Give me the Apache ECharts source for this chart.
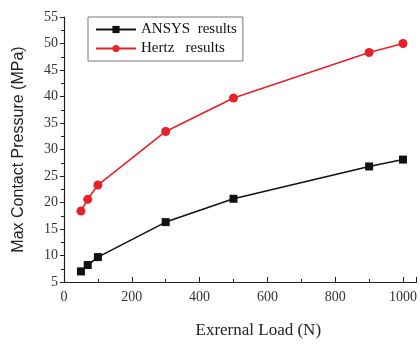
<!DOCTYPE html>
<html>
<head>
<meta charset="utf-8">
<script src="https://cdn.jsdelivr.net/npm/echarts@6/dist/echarts.min.js"></script>
<style>
  html, body { margin: 0; padding: 0; background: #fff; }
  #chart { width: 420px; height: 344px; }
</style>
</head>
<body>
<div id="chart"></div>
<script>
var loads = [50, 70, 100, 300, 500, 900, 1000];
var ansys = [7.0, 8.2, 9.7, 16.3, 20.7, 26.8, 28.1];
var hertz = [18.4, 20.6, 23.3, 33.4, 39.7, 48.3, 50.0];
var seriesNames = ['ANSYS  results', 'Hertz   results'];

function pairs(xs, ys) {
  var out = [];
  for (var i = 0; i < xs.length; i++) {
    out.push([xs[i], ys[i]]);
  }
  return out;
}

var serif = 'Liberation Serif';

var chart = echarts.init(document.getElementById('chart'));
chart.setOption({
  animation: false,
  backgroundColor: '#fff',
  grid: { left: 64, right: 3, top: 17, bottom: 52 },
  legend: {
    orient: 'vertical',
    left: 88,
    top: 17,
    padding: [5, 6, 5, 7],
    itemGap: 4,
    itemWidth: 40,
    itemHeight: 9,
    borderColor: '#777',
    borderWidth: 1,
    textStyle: { fontFamily: serif, fontSize: 15, color: '#111' },
    data: seriesNames
  },
  xAxis: {
    type: 'value',
    min: 0,
    max: 1040,
    interval: 200,
    name: 'Exrernal Load (N)',
    nameLocation: 'middle',
    nameGap: 40,
    nameTextStyle: { fontFamily: serif, fontSize: 17, color: '#222', padding: [0, 0, 0, 36] },
    axisLine: { lineStyle: { color: '#222', width: 1.2 } },
    axisTick: { inside: true, length: 5, lineStyle: { color: '#222' } },
    minorTick: { show: true, splitNumber: 2, length: 3, lineStyle: { color: '#222' } },
    axisLabel: {
      fontFamily: serif, fontSize: 14, color: '#333', margin: 8,
      showMaxLabel: false,
      formatter: function (v) { return v % 200 === 0 ? v : ''; }
    },
    splitLine: { show: false }
  },
  yAxis: {
    type: 'value',
    min: 5,
    max: 55,
    interval: 5,
    name: 'Max Contact Pressure (MPa)',
    nameLocation: 'middle',
    nameGap: 37,
    nameTextStyle: { fontFamily: 'Liberation Sans', fontSize: 16, color: '#222' },
    axisLine: { show: true, lineStyle: { color: '#222', width: 1.2 } },
    axisTick: { show: true, inside: false, length: 4, lineStyle: { color: '#222' } },
    minorTick: { show: true, splitNumber: 2, length: 3, lineStyle: { color: '#222' } },
    axisLabel: { fontFamily: serif, fontSize: 14, color: '#333', margin: 6 },
    splitLine: { show: false }
  },
  series: [
    {
      name: seriesNames[0],
      type: 'line',
      data: pairs(loads, ansys),
      symbol: 'rect',
      symbolSize: 8,
      itemStyle: { color: '#111' },
      lineStyle: { color: '#111', width: 1.6 }
    },
    {
      name: seriesNames[1],
      type: 'line',
      data: pairs(loads, hertz),
      symbol: 'circle',
      symbolSize: 9,
      itemStyle: { color: '#e8202a' },
      lineStyle: { color: '#e8202a', width: 1.6 }
    }
  ]
});
</script>
</body>
</html>
